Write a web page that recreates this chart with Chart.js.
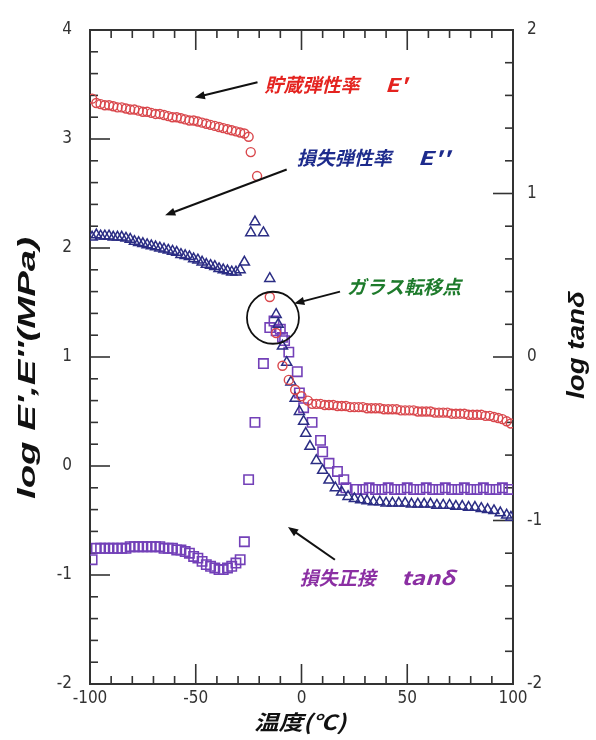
<!DOCTYPE html>
<html>
<head>
<meta charset="utf-8">
<script src="https://cdn.jsdelivr.net/npm/chart.js@4"></script>
<style>
  html, body { margin: 0; padding: 0; background: #fff; }
  #wrap { width: 596px; height: 740px; position: relative; }
</style>
</head>
<body>
<div id="wrap"><canvas id="chart"></canvas></div>
<script>
// 貯蔵弾性率 E' (left axis, log MPa)
const storageTemp = [-99, -97, -95, -93, -91, -89, -87, -85, -83, -81, -79, -77, -75, -73, -71, -69, -67, -65, -63, -61,
  -59, -57, -55, -53, -51, -49, -47, -45, -43, -41, -39, -37, -35, -33, -31, -29, -27, -25, -24, -21,
  -15, -12, -9, -6, -3, 0, 3, 5, 7, 9, 11, 13, 15, 17, 19, 21, 23, 25, 27, 29, 31, 33, 35, 37, 39, 41, 43, 45,
  47, 49, 51, 53, 55, 57, 59, 61, 63, 65, 67, 69, 71, 73, 75, 77, 79, 81, 83, 85, 87, 89, 91, 93, 95, 97, 99];
const storageLog = [3.37, 3.33, 3.32, 3.31, 3.31, 3.30, 3.29, 3.29, 3.28, 3.27, 3.27, 3.26, 3.25, 3.25, 3.24, 3.23, 3.23, 3.22, 3.21, 3.20,
  3.20, 3.19, 3.18, 3.17, 3.17, 3.16, 3.15, 3.14, 3.13, 3.12, 3.11, 3.10, 3.09, 3.08, 3.07, 3.06, 3.05, 3.02, 2.88, 2.66,
  1.55, 1.22, 0.92, 0.79, 0.70, 0.64, 0.60, 0.57, 0.57, 0.57, 0.56, 0.56, 0.56, 0.55, 0.55, 0.55, 0.54, 0.54, 0.54, 0.54, 0.53, 0.53, 0.53, 0.53, 0.52, 0.52, 0.52, 0.52,
  0.51, 0.51, 0.51, 0.51, 0.50, 0.50, 0.50, 0.50, 0.49, 0.49, 0.49, 0.49, 0.48, 0.48, 0.48, 0.48, 0.47, 0.47, 0.47, 0.47, 0.46, 0.46, 0.45, 0.44, 0.43, 0.41, 0.39];

// 損失弾性率 E'' (left axis, log MPa)
const lossTemp = [-99, -97, -95, -93, -91, -89, -87, -85, -83, -81, -79, -77, -75, -73, -71, -69, -67, -65, -63, -61,
  -59, -57, -55, -53, -51, -49, -47, -45, -43, -41, -39, -37, -35, -33, -31, -29, -27,
  -24, -22, -18, -15, -12, -11, -9, -7, -5, -3, -1, 1, 2, 4, 7, 10, 13, 16, 19, 22, 25, 28, 31,
  34, 37, 40, 43, 46, 49, 52, 55, 58, 61, 64, 67, 70, 73, 76, 79, 82, 85, 88, 91, 94, 97, 99];
const lossLog = [2.10, 2.12, 2.11, 2.11, 2.11, 2.10, 2.10, 2.10, 2.09, 2.08, 2.06, 2.05, 2.04, 2.03, 2.02, 2.01, 2.00, 1.99, 1.98, 1.97,
  1.96, 1.94, 1.93, 1.92, 1.90, 1.89, 1.87, 1.85, 1.84, 1.83, 1.81, 1.80, 1.79, 1.78, 1.78, 1.80, 1.87,
  2.14, 2.24, 2.14, 1.72, 1.39, 1.30, 1.10, 0.95, 0.77, 0.62, 0.50, 0.41, 0.30, 0.18, 0.05, -0.04, -0.13, -0.20, -0.24, -0.28, -0.30, -0.31, -0.32,
  -0.33, -0.33, -0.34, -0.34, -0.34, -0.34, -0.35, -0.35, -0.35, -0.35, -0.36, -0.36, -0.36, -0.37, -0.37, -0.38, -0.38, -0.39, -0.40, -0.41, -0.43, -0.45, -0.47];

// 損失正接 tanδ (right axis, log)
const tanTemp = [-99, -97, -95, -93, -91, -89, -87, -85, -83, -81, -79, -77, -75, -73, -71, -69, -67, -65, -63, -61,
  -59, -57, -55, -53, -51, -49, -47, -45, -43, -41, -39, -37, -35, -33, -31, -29, -27,
  -25, -22, -18, -15, -13, -12, -10, -9, -8, -6, -2, -1, 1, 5, 9, 10, 13, 17, 20, 21, 26,
  29, 32, 35, 38, 41, 44, 47, 50, 53, 56, 59, 62, 65, 68, 71, 74, 77, 80, 83, 86, 89, 92, 95, 98];
const tanLog = [-1.24, -1.17, -1.17, -1.17, -1.17, -1.17, -1.17, -1.17, -1.17, -1.16, -1.16, -1.16, -1.16, -1.16, -1.16, -1.16, -1.16, -1.17, -1.17, -1.17,
  -1.18, -1.18, -1.19, -1.20, -1.22, -1.23, -1.25, -1.27, -1.28, -1.29, -1.30, -1.30, -1.29, -1.28, -1.26, -1.24, -1.13,
  -0.75, -0.40, -0.04, 0.18, 0.22, 0.16, 0.17, 0.12, 0.10, 0.03, -0.09, -0.22, -0.31, -0.40, -0.51, -0.58, -0.65, -0.70, -0.75, -0.80, -0.81,
  -0.81, -0.80, -0.81, -0.81, -0.80, -0.81, -0.81, -0.80, -0.81, -0.81, -0.80, -0.81, -0.81, -0.80, -0.81, -0.81, -0.80, -0.81, -0.81, -0.80, -0.81, -0.81, -0.80, -0.81];

const xTickValues = [-100, -50, 0, 50, 100];
const leftTickValues = [-2, -1, 0, 1, 2, 3, 4];
const rightTickValues = [-2, -1, 0, 1, 2];

const toPoints = (xs, ys) => xs.map((x, i) => ({ x: x, y: ys[i] }));

const numFont = { family: "'Liberation Sans Narrow', 'DejaVu Sans Condensed', sans-serif", size: 17 };
const cjk = "'Noto Sans CJK JP', 'Noto Sans', sans-serif";

// frame + inward ticks
const framePlugin = {
  id: "frame",
  beforeDatasetsDraw(chart) {
    const { ctx, chartArea: a, scales } = chart;
    ctx.save();
    ctx.strokeStyle = "#333";
    ctx.lineWidth = 2;
    ctx.strokeRect(a.left, a.top, a.right - a.left, a.bottom - a.top);
    ctx.lineWidth = 1.6;
    const minor = 8, major = 20;

    // x ticks, bottom and top
    for (let i = 0; i <= 20; i++) {
      const v = -100 + i * 10;
      const px = scales.x.getPixelForValue(v);
      const len = v % 50 === 0 ? major : minor;
      ctx.beginPath();
      ctx.moveTo(px, a.bottom); ctx.lineTo(px, a.bottom - len);
      ctx.moveTo(px, a.top); ctx.lineTo(px, a.top + len);
      ctx.stroke();
    }
    // left ticks
    for (let i = 0; i <= 30; i++) {
      const v = -2 + i * 0.2;
      const py = scales.yL.getPixelForValue(v);
      const len = i % 5 === 0 ? major : minor;
      ctx.beginPath();
      ctx.moveTo(a.left, py); ctx.lineTo(a.left + len, py);
      ctx.stroke();
    }
    // right ticks
    for (let i = 0; i <= 20; i++) {
      const v = -2 + i * 0.2;
      const py = scales.yR.getPixelForValue(v);
      const len = i % 5 === 0 ? major : minor;
      ctx.beginPath();
      ctx.moveTo(a.right, py); ctx.lineTo(a.right - len, py);
      ctx.stroke();
    }
    ctx.restore();
  },
};

function arrow(ctx, x1, y1, x2, y2) {
  const ang = Math.atan2(y2 - y1, x2 - x1);
  const head = 11;
  ctx.beginPath();
  ctx.moveTo(x1, y1);
  ctx.lineTo(x2 - Math.cos(ang) * head * 0.8, y2 - Math.sin(ang) * head * 0.8);
  ctx.stroke();
  ctx.beginPath();
  ctx.moveTo(x2, y2);
  ctx.lineTo(x2 - head * Math.cos(ang - 0.38), y2 - head * Math.sin(ang - 0.38));
  ctx.lineTo(x2 - head * Math.cos(ang + 0.38), y2 - head * Math.sin(ang + 0.38));
  ctx.closePath();
  ctx.fill();
}

// text drawn to a given length (the scanned figure has stretched lettering)
function stretchText(ctx, text, cx, cy, rot, targetW) {
  const w = ctx.measureText(text).width;
  ctx.save();
  ctx.translate(cx, cy);
  ctx.rotate(rot);
  ctx.scale(targetW / w, 1);
  ctx.fillText(text, 0, 0);
  ctx.restore();
}

// labels, arrows, positioned in data units (left axis); latin parts get a width
const notes = [
  { parts: [["貯蔵弾性率", -17.5], ["E'", 39.5, 22]], color: "#e4231f", y: 3.5, from: [-20.8, 3.52], to: [-50.5, 3.38] },
  { parts: [["損失弾性率", -2.3], ["E''", 55, 32]], color: "#1d2b8c", y: 2.83, from: [-7, 2.72], to: [-64.5, 2.3] },
  { parts: [["ガラス転移点", 21.5]], color: "#1e7b2c", y: 1.64, from: [18.2, 1.6], to: [-3.5, 1.49] },
  { parts: [["損失正接", -0.8], ["tanδ", 47, 54]], color: "#8b2fa3", y: -1.03, from: [15.8, -0.86], to: [-6.4, -0.56] },
];

const notesPlugin = {
  id: "notes",
  afterDatasetsDraw(chart) {
    const { ctx, chartArea: a, scales } = chart;
    const X = (v) => scales.x.getPixelForValue(v);
    const Y = (v) => scales.yL.getPixelForValue(v);
    ctx.save();
    ctx.fillStyle = "#111";
    ctx.strokeStyle = "#111";
    ctx.lineWidth = 2;
    notes.forEach((n) => arrow(ctx, X(n.from[0]), Y(n.from[1]), X(n.to[0]), Y(n.to[1])));

    // circle around the glass transition
    ctx.beginPath();
    ctx.lineWidth = 1.8;
    ctx.arc(X(-13.5), Y(1.36), 26, 0, Math.PI * 2);
    ctx.stroke();

    ctx.font = "italic bold 19px " + cjk;
    ctx.textBaseline = "middle";
    ctx.textAlign = "left";
    notes.forEach((n) => {
      ctx.fillStyle = n.color;
      n.parts.forEach((p) => {
        if (p[2]) stretchText(ctx, p[0], X(p[1]), Y(n.y), 0, p[2]);
        else ctx.fillText(p[0], X(p[1]), Y(n.y));
      });
    });

    // axis titles
    ctx.fillStyle = "#111";
    ctx.textAlign = "center";
    ctx.font = "italic bold 21px " + cjk;
    stretchText(ctx, "温度(℃)", 300, 722, 0, 92);

    ctx.font = "italic bold 23px 'Liberation Sans', Arial, sans-serif";
    stretchText(ctx, "log E',E''(MPa)", 29, 368, -Math.PI / 2, 262);
    stretchText(ctx, "log tanδ", 578, 345, -Math.PI / 2, 108);
    ctx.restore();
  },
};

new Chart(document.getElementById("chart"), {
  type: "scatter",
  data: {
    datasets: [
      {
        label: "E'",
        data: toPoints(storageTemp, storageLog),
        yAxisID: "yL",
        pointStyle: "circle",
        pointRadius: 4.5,
        borderColor: "#d9474c",
        backgroundColor: "rgba(0,0,0,0)",
        borderWidth: 1.4,
      },
      {
        label: "E''",
        data: toPoints(lossTemp, lossLog),
        yAxisID: "yL",
        pointStyle: "triangle",
        pointRadius: 5.8,
        borderColor: "#2b2d84",
        backgroundColor: "rgba(0,0,0,0)",
        borderWidth: 1.5,
      },
      {
        label: "tanδ",
        data: toPoints(tanTemp, tanLog),
        yAxisID: "yR",
        pointStyle: "rect",
        pointRadius: 6.6,
        borderColor: "#7340b8",
        backgroundColor: "rgba(0,0,0,0)",
        borderWidth: 1.6,
      },
    ],
  },
  options: {
    responsive: true,
    maintainAspectRatio: false,
    animation: false,
    layout: { padding: { top: 30, left: 0, right: 0, bottom: 0 } },
    plugins: { legend: { display: false }, tooltip: { enabled: false } },
    scales: {
      x: {
        type: "linear",
        min: -100,
        max: 100,
        afterBuildTicks: (s) => { s.ticks = xTickValues.map((v) => ({ value: v })); },
        ticks: { font: numFont, color: "#333", padding: 4 },
        grid: { display: false, drawTicks: false },
        border: { display: false },
        afterFit: (s) => { s.height = 56; },
      },
      yL: {
        type: "linear",
        position: "left",
        min: -2,
        max: 4,
        afterBuildTicks: (s) => { s.ticks = leftTickValues.map((v) => ({ value: v })); },
        ticks: { font: numFont, color: "#333", padding: 18 },
        grid: { display: false, drawTicks: false },
        border: { display: false },
        afterFit: (s) => { s.width = 90; },
      },
      yR: {
        type: "linear",
        position: "right",
        min: -2,
        max: 2,
        afterBuildTicks: (s) => { s.ticks = rightTickValues.map((v) => ({ value: v })); },
        ticks: { font: numFont, color: "#333", padding: 14 },
        grid: { display: false, drawTicks: false },
        border: { display: false },
        afterFit: (s) => { s.width = 83; },
      },
    },
  },
  plugins: [framePlugin, notesPlugin],
});
</script>
</body>
</html>
